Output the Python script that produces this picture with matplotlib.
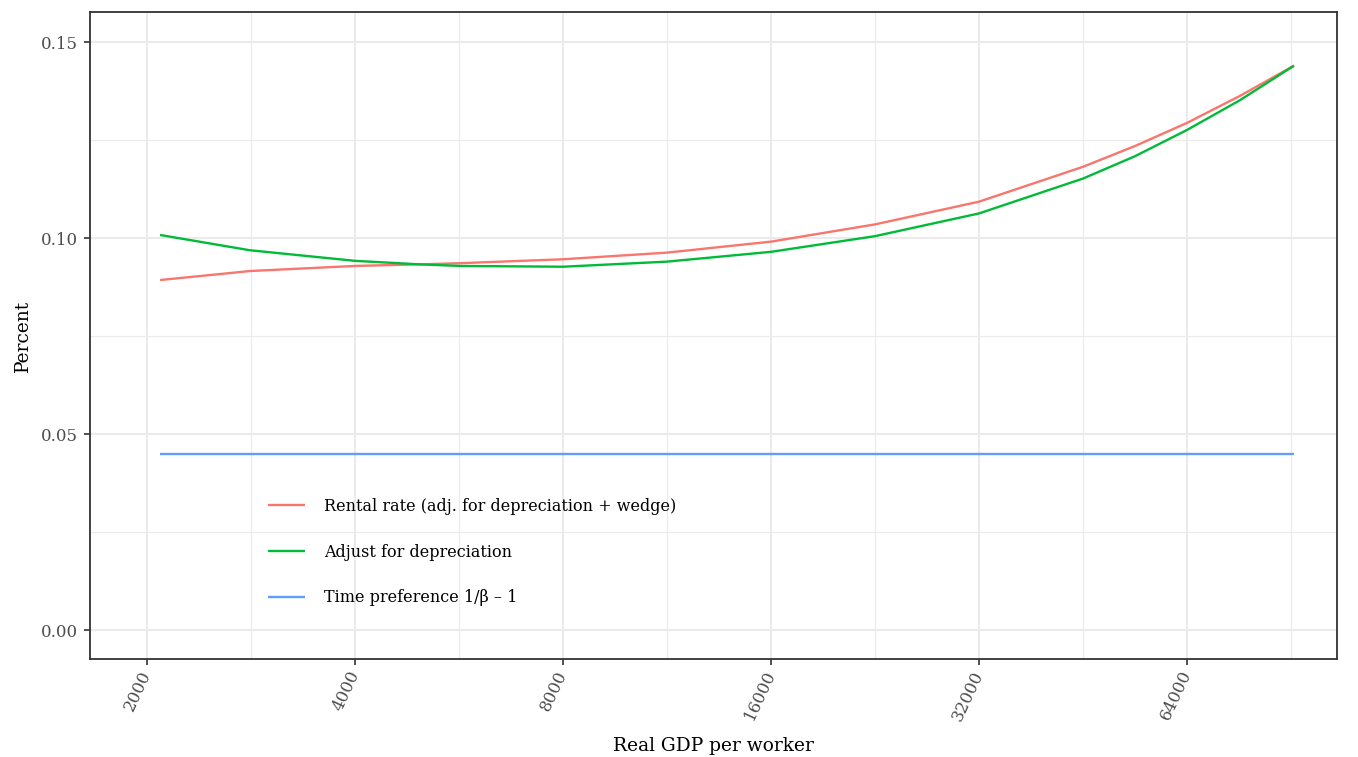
import numpy as np
import matplotlib
matplotlib.use("Agg")
import matplotlib.pyplot as plt
from matplotlib.ticker import FixedLocator, NullFormatter

# ============================================================
# Data
# ============================================================
gdp = [2089, 2819, 4000, 4967, 5676, 8000, 11314, 16000, 22627, 32000,
       45255, 53817, 64000, 76360, 91400]

rental = [0.0893, 0.0916, 0.0929, 0.0933, 0.0936, 0.0946, 0.0963, 0.0991,
          0.1035, 0.1093, 0.1182, 0.1235, 0.1294, 0.1363, 0.1440]
depreciation = [0.1008, 0.0969, 0.0942, 0.0933, 0.0929, 0.0927, 0.0940, 0.0965,
                0.1005, 0.1063, 0.1152, 0.1209, 0.1276, 0.1352, 0.1440]
time_pref = [0.045] * len(gdp)

labels = [
    "Rental rate (adj. for depreciation + wedge)",
    "Adjust for depreciation",
    "Time preference 1/β – 1",
]
colors = ["#F8766D", "#00BA38", "#619CFF"]

x_ticks = [2000, 4000, 8000, 16000, 32000, 64000]
y_ticks = [0.00, 0.05, 0.10, 0.15]

# ============================================================
# Plot
# ============================================================
plt.rcParams["font.family"] = ["DejaVu Serif"]

fig = plt.figure(figsize=(13.58, 7.57), dpi=100)
ax = fig.add_axes([90 / 1358, 1 - 659 / 757, (1337 - 90) / 1358, (659 - 12) / 757])

for y, lab, col in zip([rental, depreciation, time_pref], labels, colors):
    ax.plot(gdp, y, color=col, lw=1.7, label=lab, solid_capstyle="butt")

ax.set_xscale("log", base=2)
ax.set_xlim(1654, 105500)
ax.set_ylim(-0.0074, 0.1577)

ax.xaxis.set_major_locator(FixedLocator(x_ticks))
ax.xaxis.set_minor_locator(FixedLocator([t * np.sqrt(2) for t in x_ticks]))
ax.xaxis.set_minor_formatter(NullFormatter())
ax.set_xticklabels([str(t) for t in x_ticks], rotation=65, ha="right",
                   va="center", rotation_mode="anchor")

ax.yaxis.set_major_locator(FixedLocator(y_ticks))
ax.yaxis.set_minor_locator(FixedLocator([0.025, 0.075, 0.125]))
ax.set_yticklabels([f"{t:.2f}" for t in y_ticks])

ax.grid(True, which="major", color="#EBEBEB", lw=1.5)
ax.grid(True, which="minor", color="#EBEBEB", lw=0.8)
ax.set_axisbelow(True)

ax.tick_params(which="major", length=4, width=1.2, color="#333333",
               labelcolor="#4D4D4D", labelsize=12, pad=5)
ax.tick_params(which="minor", length=0)
for s in ax.spines.values():
    s.set_color("#333333")
    s.set_linewidth(1.3)

ax.set_xlabel("Real GDP per worker", fontsize=13.4, labelpad=10)
ax.set_ylabel("Percent", fontsize=13.4, labelpad=6)

ax.legend(loc="upper left", bbox_to_anchor=(268 / 1358, 1 - 498 / 757),
          bbox_transform=fig.transFigure, frameon=False, fontsize=11.5,
          handlelength=2.3, handletextpad=1.2, labelspacing=1.8,
          borderpad=0, borderaxespad=0)

fig.savefig("out.png", dpi=100)
